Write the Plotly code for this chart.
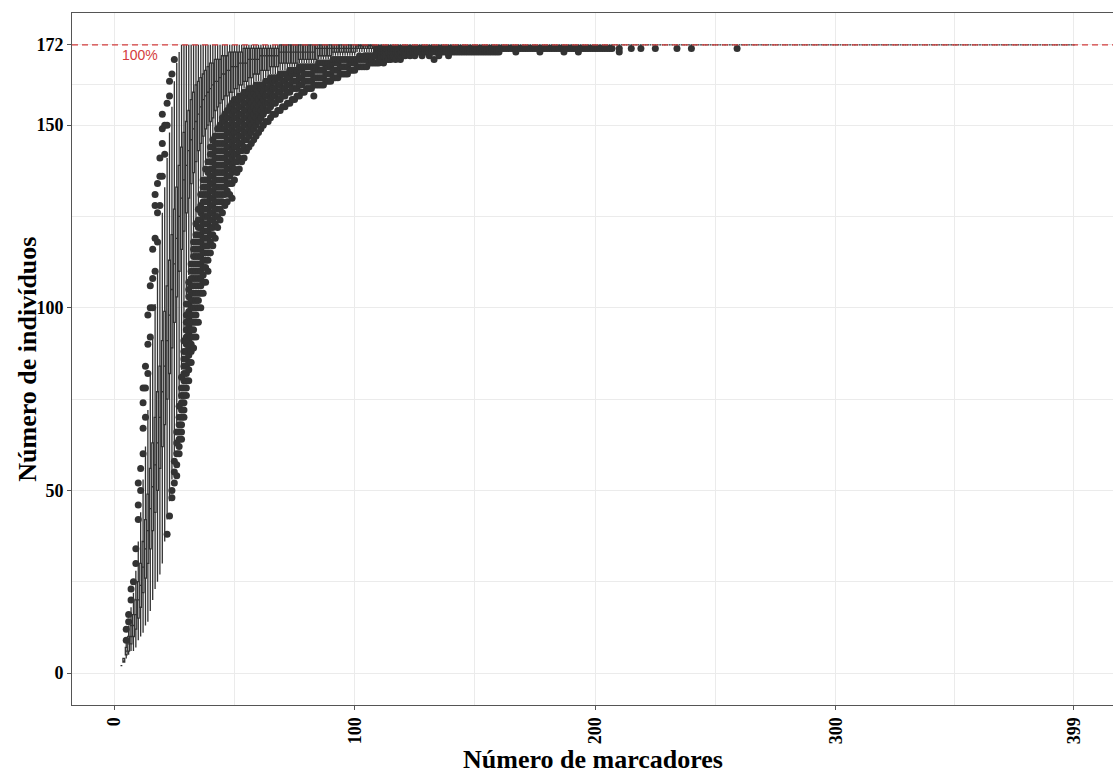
import plotly.graph_objects as go

# ---------------- data ----------------
markers = list(range(3, 121))  # number of markers with visible box spread

lower_whisker = [
    2, 3, 4, 5, 6, 6, 7, 9, 10, 11, 13, 14, 17, 20, 23, 25, 27, 30,
    36, 42, 47, 53, 60, 68, 75, 83, 93, 103, 109, 114, 119, 124, 128, 132, 136, 139, 141, 145,
    147, 148, 150, 151, 153, 154, 155, 156, 157, 158, 158, 159, 159, 160, 160, 161, 161, 161, 162, 162,
    162, 162, 163, 163, 164, 164, 164, 164, 165, 165, 165, 165, 166, 166, 166, 166, 167, 167, 167, 167,
    167, 167, 167, 167, 168, 168, 168, 168, 168, 168, 169, 169, 169, 169, 169, 169, 169, 169, 169, 169,
    170, 170, 170, 170, 170, 170, 170, 170, 172, 172, 172, 172, 172, 172, 172, 172, 172, 172, 172, 172,
]
q1 = [
    2, 3, 5, 6, 8, 10, 12, 15, 18, 22, 26, 30, 34, 39, 44, 50, 56, 62,
    68, 75, 82, 89, 96, 103, 110, 116, 121, 126, 130, 134, 137, 140, 143, 145, 147, 149, 150, 151,
    152, 154, 155, 156, 157, 158, 158, 159, 159, 160, 160, 161, 161, 162, 162, 163, 163, 164, 164, 164,
    165, 165, 165, 165, 166, 166, 166, 166, 167, 167, 167, 167, 167, 167, 167, 167, 168, 168, 168, 168,
    168, 168, 168, 168, 169, 169, 169, 169, 169, 169, 170, 170, 170, 170, 170, 170, 170, 170, 170, 170,
    171, 171, 171, 171, 171, 171, 171, 171, 172, 172, 172, 172, 172, 172, 172, 172, 172, 172, 172, 172,
]
median = [
    2, 3, 6, 8, 10, 13, 16, 20, 24, 29, 34, 39, 45, 51, 57, 63, 70, 77,
    84, 91, 98, 105, 112, 119, 125, 130, 135, 139, 143, 146, 149, 151, 153, 155, 157, 158, 159, 160,
    161, 162, 162, 163, 164, 164, 165, 165, 166, 166, 166, 167, 167, 167, 167, 168, 168, 168, 168, 168,
    169, 169, 169, 169, 169, 169, 169, 169, 170, 170, 170, 170, 170, 170, 170, 170, 170, 170, 170, 170,
    170, 170, 170, 171, 171, 171, 171, 171, 171, 171, 171, 171, 171, 171, 171, 171, 171, 171, 171, 171,
    172, 172, 172, 172, 172, 172, 172, 172, 172, 172, 172, 172, 172, 172, 172, 172, 172, 172, 172, 172,
]
q3 = [
    2, 4, 7, 10, 13, 16, 20, 25, 30, 36, 42, 49, 56, 63, 70, 77, 84, 91,
    99, 106, 113, 120, 127, 133, 139, 144, 148, 151, 154, 157, 159, 161, 162, 163, 164, 165, 166, 167,
    167, 168, 168, 168, 169, 169, 169, 170, 170, 170, 170, 170, 170, 171, 171, 171, 171, 171, 171, 171,
    171, 171, 171, 171, 171, 171, 171, 171, 172, 172, 172, 172, 172, 172, 172, 172, 172, 172, 172, 172,
    172, 172, 172, 172, 172, 172, 172, 172, 172, 172, 172, 172, 172, 172, 172, 172, 172, 172, 172, 172,
    172, 172, 172, 172, 172, 172, 172, 172, 172, 172, 172, 172, 172, 172, 172, 172, 172, 172, 172, 172,
]
upper_whisker = [
    2, 4, 9, 13, 18, 22, 28, 36, 44, 53, 62, 72, 82, 92, 101, 110, 118, 126,
    133, 141, 148, 155, 162, 167, 170, 172, 172, 172, 172, 172, 172, 172, 172, 172, 172, 172, 172, 172,
    172, 172, 172, 172, 172, 172, 172, 172, 172, 172, 172, 172, 172, 172, 172, 172, 172, 172, 172, 172,
    172, 172, 172, 172, 172, 172, 172, 172, 172, 172, 172, 172, 172, 172, 172, 172, 172, 172, 172, 172,
    172, 172, 172, 172, 172, 172, 172, 172, 172, 172, 172, 172, 172, 172, 172, 172, 172, 172, 172, 172,
    172, 172, 172, 172, 172, 172, 172, 172, 172, 172, 172, 172, 172, 172, 172, 172, 172, 172, 172, 172,
]

# markers 121..399: every simulation identifies all 172 individuals (degenerate boxes)
flat_markers = list(range(121, 400))
flat_value = 172

upper_outliers = {
    5: [9, 12], 6: [14, 16], 7: [20, 23], 8: [25], 9: [30, 34], 10: [42, 46, 52],
    11: [50, 56], 12: [60, 67, 74, 78], 13: [70, 78, 84], 14: [82, 90, 98],
    15: [92, 100, 106], 16: [100, 108, 116], 17: [110, 119, 128, 131],
    18: [118, 126, 134], 19: [128, 136, 141], 20: [136, 145, 149, 153],
    21: [142, 150], 22: [150, 156], 23: [158, 162], 24: [164], 25: [168],
}
lower_outliers = {
    22: [38], 23: [43], 24: [48, 50], 25: [52, 55, 58], 26: [54, 57, 60, 63, 66],
    27: [60, 62, 64, 66, 68, 70, 73],
    28: [64, 66, 68, 70, 72, 74, 76, 78, 81],
    29: [70, 72, 74, 76, 78, 80, 82, 84, 86, 88, 91],
    30: [76, 78, 80, 82, 84, 86, 88, 90, 92, 94, 96, 98, 101],
    31: [80, 83, 85, 87, 89, 91, 93, 95, 97, 99, 101, 103, 105, 107],
    32: [85, 88, 90, 92, 94, 96, 98, 100, 102, 104, 106, 108, 110, 112],
    33: [89, 92, 94, 96, 98, 100, 102, 104, 106, 108, 110, 112, 114, 116, 118],
    34: [92, 96, 98, 100, 102, 104, 106, 108, 110, 112, 114, 116, 118, 120, 123],
    35: [96, 100, 102, 104, 106, 108, 110, 112, 114, 116, 118, 120, 122, 124, 127],
    36: [100, 104, 106, 108, 110, 112, 114, 116, 118, 120, 122, 124, 126, 128, 131],
    37: [104, 107, 109, 111, 113, 115, 117, 119, 121, 123, 125, 127, 129, 131, 133, 135],
    38: [107, 111, 113, 115, 117, 119, 121, 123, 125, 127, 129, 131, 133, 135, 138],
    39: [110, 113, 115, 117, 119, 121, 123, 125, 127, 129, 131, 133, 135, 137, 140],
    40: [115, 118, 120, 122, 124, 126, 128, 130, 132, 134, 136, 138, 140, 142, 144],
    41: [117, 120, 122, 124, 126, 128, 130, 132, 134, 136, 138, 140, 142, 144, 146],
    42: [119, 123, 125, 127, 129, 131, 133, 135, 137, 139, 141, 143, 145, 147],
    43: [122, 125, 127, 129, 131, 133, 135, 137, 139, 141, 143, 145, 147, 149],
    44: [124, 127, 129, 131, 133, 135, 137, 139, 141, 143, 145, 147, 149, 150],
    45: [126, 129, 131, 133, 135, 137, 139, 141, 143, 145, 147, 149, 151, 152],
    46: [128, 131, 133, 135, 137, 139, 141, 143, 145, 147, 149, 151, 153],
    47: [129, 132, 134, 136, 138, 140, 142, 144, 146, 148, 150, 152, 154],
    48: [131, 134, 136, 138, 140, 142, 144, 146, 148, 150, 152, 154, 155],
    49: [130, 134, 137, 139, 141, 143, 145, 147, 149, 151, 153, 155, 156],
    50: [135, 138, 140, 142, 144, 146, 148, 150, 152, 154, 156, 157],
    51: [137, 140, 142, 144, 146, 148, 150, 152, 154, 156, 157],
    52: [138, 141, 143, 145, 147, 149, 151, 153, 155, 157, 158],
    53: [140, 143, 145, 147, 149, 151, 153, 155, 157, 158],
    54: [141, 144, 146, 148, 150, 152, 154, 156, 158, 159],
    55: [143, 146, 148, 150, 152, 154, 156, 158, 159],
    56: [144, 147, 149, 151, 153, 155, 157, 159, 160],
    57: [145, 148, 150, 152, 154, 156, 158, 160],
    58: [146, 149, 151, 153, 155, 157, 159, 160],
    59: [147, 150, 152, 154, 156, 158, 160, 161],
    60: [148, 151, 153, 155, 157, 159, 161],
    61: [149, 152, 154, 156, 158, 160, 161],
    62: [150, 153, 155, 157, 159, 161],
    63: [151, 154, 156, 158, 160, 162],
    64: [151, 154, 156, 158, 160, 162],
    65: [152, 155, 157, 159, 161, 163],
    66: [153, 156, 158, 160, 162, 163],
    67: [153, 156, 158, 160, 162, 163],
    68: [154, 157, 159, 161, 163],
    69: [154, 157, 159, 161, 163, 164],
    70: [155, 158, 160, 162, 164],
    71: [155, 158, 160, 162, 164],
    72: [156, 159, 161, 163, 164],
    73: [156, 159, 161, 163, 165],
    74: [157, 160, 162, 164, 165],
    75: [157, 160, 162, 164, 165],
    76: [158, 160, 162, 164, 165],
    77: [158, 161, 163, 165, 166],
    78: [159, 161, 163, 165, 166],
    79: [159, 162, 164, 166], 80: [160, 162, 164, 166], 81: [160, 162, 164, 166],
    82: [160, 162, 164, 166], 83: [158, 161, 163, 165, 166], 84: [161, 163, 165, 166],
    85: [161, 163, 165, 167], 86: [161, 163, 165, 167], 87: [161, 163, 165, 167],
    88: [162, 164, 166, 167], 89: [162, 164, 166, 167], 90: [162, 164, 166, 167],
    91: [163, 165, 167, 168], 92: [163, 165, 167, 168], 93: [163, 165, 167, 168],
    94: [164, 166, 168], 95: [164, 166, 168], 96: [164, 166, 168], 97: [164, 166, 168],
    98: [165, 167, 168], 99: [165, 167, 168], 100: [165, 167, 168],
    101: [166, 168], 102: [166, 168, 169], 103: [166, 168],
    104: [166, 168, 169], 105: [166, 168, 169], 106: [167, 169], 107: [167, 168, 169],
    108: [167, 169],
    109: [167, 169, 170, 171], 110: [167, 168, 170, 171], 111: [168, 169, 170, 171],
    112: [167, 169, 170, 171], 113: [168, 169, 170, 171], 114: [168, 170, 171],
    115: [168, 169, 170, 171], 116: [169, 170, 171], 117: [168, 170, 171],
    118: [169, 170, 171], 119: [168, 169, 170, 171], 120: [169, 170, 171],
    121: [169, 170, 171], 122: [170, 171], 123: [169, 170, 171], 124: [170, 171],
    125: [169, 170, 171], 126: [170, 171], 127: [170, 171], 128: [169, 170, 171],
    129: [170, 171], 130: [170, 171], 131: [169, 170, 171], 132: [170, 171],
    133: [168, 170, 171], 134: [170, 171], 135: [169, 170, 171], 136: [170, 171],
    137: [170, 171], 138: [170, 171], 139: [169, 170, 171], 140: [170, 171],
    141: [170, 171], 142: [170, 171], 143: [170, 171], 144: [170, 171], 145: [170, 171],
    146: [170, 171], 147: [170, 171], 148: [170, 171], 149: [170, 171], 150: [170, 171],
    151: [170, 171], 152: [170, 171], 153: [170, 171], 154: [170, 171], 155: [170, 171],
    156: [170, 171], 157: [170, 171], 158: [170, 171], 159: [170, 171], 160: [170, 171],
    161: [171], 162: [171], 163: [171], 164: [171], 165: [171], 166: [171], 167: [170, 171],
    168: [171], 169: [171], 170: [171], 171: [171], 172: [171], 173: [171], 174: [171],
    175: [171], 176: [171], 177: [170, 171], 178: [171], 179: [171], 180: [171],
    181: [171], 182: [171], 183: [171], 184: [171], 185: [171], 186: [171], 187: [170, 171],
    188: [171], 189: [171], 190: [171], 191: [171], 192: [171], 193: [170, 171],
    194: [171], 195: [171], 196: [171], 197: [171], 198: [171], 199: [171], 200: [171],
    201: [171], 202: [171], 203: [171], 204: [171], 205: [171], 206: [171], 207: [171],
    210: [170, 171], 215: [171], 219: [171], 225: [171], 234: [171], 240: [171], 259: [171],
}

x_ticks = [0, 100, 200, 300, 399]
y_ticks = [0, 50, 100, 150, 172]
reference_level = 172
reference_label = "100%"

# ---------------- figure ----------------
n_flat = len(flat_markers)
box_x = markers + flat_markers
box_lo = lower_whisker + [flat_value] * n_flat
box_q1 = q1 + [flat_value] * n_flat
box_med = median + [flat_value] * n_flat
box_q3 = q3 + [flat_value] * n_flat
box_hi = upper_whisker + [flat_value] * n_flat

out_x, out_y = [], []
for d in (upper_outliers, lower_outliers):
    for k, vals in d.items():
        for v in vals:
            out_x.append(k)
            out_y.append(v)

dark = "#333333"
fig = go.Figure()
fig.add_trace(go.Box(
    x=box_x, q1=box_q1, median=box_med, q3=box_q3,
    lowerfence=box_lo, upperfence=box_hi,
    boxpoints=False, width=0.75, whiskerwidth=0,
    fillcolor="#ffffff", line=dict(color=dark, width=1.3),
    showlegend=False, hoverinfo="skip",
))
fig.add_trace(go.Scatter(
    x=out_x, y=out_y, mode="markers",
    marker=dict(color=dark, size=7, line=dict(width=0)),
    showlegend=False, hoverinfo="skip",
))

red = "#d43c3c"
fig.add_shape(type="line", xref="paper", x0=0, x1=1, y0=reference_level, y1=reference_level,
              line=dict(color=red, width=1.2, dash="6px,4px"), layer="above")
fig.add_annotation(x=10.7, y=169.2, text=reference_label, showarrow=False,
                   font=dict(family="Liberation Sans", size=14, color=red))

fig.add_annotation(xref="paper", yref="paper", x=0.5, y=-0.079, yanchor="middle",
                   text="<b>Número de marcadores</b>", showarrow=False,
                   font=dict(family="Liberation Serif", size=26, color="black"))
fig.add_annotation(xref="paper", yref="paper", x=-0.0435, y=0.5, xanchor="center",
                   textangle=-90, text="<b>Número de indivíduos</b>", showarrow=False,
                   font=dict(family="Liberation Serif", size=26, color="black"))

axis_line = "#555555"
grid = "#ebebeb"
tick_font = dict(family="Liberation Serif", size=18, color="black", weight="bold")
fig.update_xaxes(
    range=[-17.55, 415.3], tickmode="array", tickvals=x_ticks, ticktext=[str(t) for t in x_ticks],
    tickangle=-90, ticks="outside", ticklen=4, tickcolor=axis_line, tickfont=tick_font,
    showline=True, linecolor=axis_line, linewidth=1, mirror=True,
    showgrid=True, gridcolor=grid, gridwidth=1, zeroline=False,
    minor=dict(tickvals=[50, 150, 250, 349.5], showgrid=True, gridcolor=grid, gridwidth=1, ticks=""),
)
fig.update_yaxes(
    range=[-8.76, 180.7], tickmode="array", tickvals=y_ticks, ticktext=[str(t) for t in y_ticks],
    ticks="outside", ticklen=4, tickcolor=axis_line, tickfont=tick_font,
    showline=True, linecolor=axis_line, linewidth=1, mirror=False,
    showgrid=True, gridcolor=grid, gridwidth=1, zeroline=False,
    minor=dict(tickvals=[25, 75, 125, 161], showgrid=True, gridcolor=grid, gridwidth=1, ticks=""),
)
fig.update_layout(
    width=1113, height=774,
    margin=dict(l=72, r=0, t=13, b=69),
    paper_bgcolor="white", plot_bgcolor="white",
    showlegend=False,
)
fig.write_html("out.html")
